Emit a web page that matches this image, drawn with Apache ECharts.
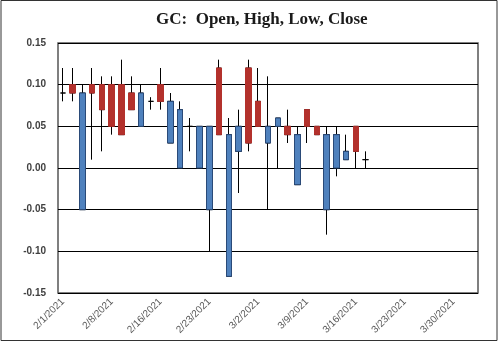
<!DOCTYPE html>
<html>
<head>
<meta charset="utf-8">
<script src="https://cdn.jsdelivr.net/npm/echarts@6/dist/echarts.min.js"></script>
<style>
html,body{margin:0;padding:0;background:#fff;}
#chart{width:500px;height:345px;}
</style>
</head>
<body>
<div id="chart"></div>
<script>
// Trading days (category axis)
const dates = ["2/1/2021","2/2/2021","2/3/2021","2/4/2021","2/5/2021",
  "2/8/2021","2/9/2021","2/10/2021","2/11/2021","2/12/2021",
  "2/16/2021","2/17/2021","2/18/2021","2/19/2021","2/22/2021",
  "2/23/2021","2/24/2021","2/25/2021","2/26/2021","3/1/2021",
  "3/2/2021","3/3/2021","3/4/2021","3/5/2021","3/8/2021",
  "3/9/2021","3/10/2021","3/11/2021","3/12/2021","3/15/2021",
  "3/16/2021","3/17/2021","3/18/2021","3/19/2021","3/22/2021",
  "3/23/2021","3/24/2021","3/25/2021","3/26/2021","3/29/2021",
  "3/30/2021","3/31/2021","4/1/2021"];
const openV  = [0.09,0.10,-0.05,0.10,0.10,0.10,0.10,0.09,0.05,0.08,0.10,0.03,0.00,0.05,0.00,-0.05,0.12,-0.13,0.02,0.12,0.08,0.03,0.05,0.05,-0.02,0.07,0.05,-0.05,0.00,0.01,0.05,0.01];
const closeV = [0.09,0.09,0.09,0.09,0.07,0.05,0.04,0.07,0.09,0.08,0.08,0.08,0.07,0.05,0.05,0.05,0.04,0.04,0.05,0.03,0.05,0.05,0.06,0.04,0.04,0.05,0.04,0.04,0.04,0.02,0.02,0.01];
const lowV   = [0.08,0.08,-0.05,0.01,0.02,0.04,0.04,0.07,0.05,0.07,0.07,0.03,0.00,0.02,0.00,-0.10,0.04,-0.13,-0.03,0.02,0.05,-0.05,0.00,0.03,-0.02,0.03,0.04,-0.08,-0.01,0.01,0.00,0.00];
const highV  = [0.12,0.12,0.10,0.12,0.11,0.11,0.13,0.11,0.10,0.085,0.12,0.09,0.08,0.06,0.05,0.05,0.13,0.06,0.07,0.13,0.12,0.11,0.06,0.07,0.05,0.07,0.05,0.05,0.05,0.04,0.05,0.02];
const yTicks = {min:-0.15, max:0.15, step:0.05};

const full = dates.map((d,i)=> i<openV.length ? [openV[i],closeV[i],lowV[i],highV[i]] : '-');
const bodies = dates.map((d,i)=>{
  if(i>=openV.length || openV[i]===closeV[i]) return '-';
  const o=openV[i], c=closeV[i];
  return [o,c,Math.min(o,c),Math.max(o,c)];
});

const chart = echarts.init(document.getElementById('chart'));
chart.setOption({
  animation:false,
  title:{text:'GC:  Open, High, Low, Close',left:151,top:6,
    textStyle:{fontFamily:'Liberation Serif',fontWeight:'bold',fontSize:17,color:'#1a1a1a'}},
  grid:{left:58,right:22,top:43,bottom:52,show:true,borderColor:'#555',borderWidth:1.5,backgroundColor:'#fff'},
  xAxis:{type:'category',data:dates,boundaryGap:true,
    axisLine:{show:false},axisTick:{show:false},
    axisLabel:{interval:4,rotate:45,fontSize:10,color:'#595959',fontFamily:'Liberation Sans',margin:7}},
  yAxis:{type:'value',min:yTicks.min,max:yTicks.max,interval:yTicks.step,
    axisLine:{show:false},axisTick:{show:false},
    splitLine:{lineStyle:{color:'#000',width:1}},
    axisLabel:{formatter:v=>v.toFixed(2),fontSize:10,fontWeight:'bold',color:'#404040',fontFamily:'Liberation Sans',margin:12}},
  graphic:[{type:'rect',shape:{x:1,y:0.5,width:496,height:340},style:{fill:'none',stroke:'#333',lineWidth:1},silent:true,z:-1}],
  series:[
    {type:'candlestick',data:full,barWidth:6,
      itemStyle:{color:'#000',color0:'#000',borderColor:'#000',borderColor0:'#000',borderWidth:1}},
    {type:'candlestick',data:bodies,barWidth:6,
      itemStyle:{color:'#4F81BD',color0:'#B3312C',borderColor:'#2A4A78',borderColor0:'#B3312C',borderWidth:1}}
  ]
});
</script>
</body>
</html>
